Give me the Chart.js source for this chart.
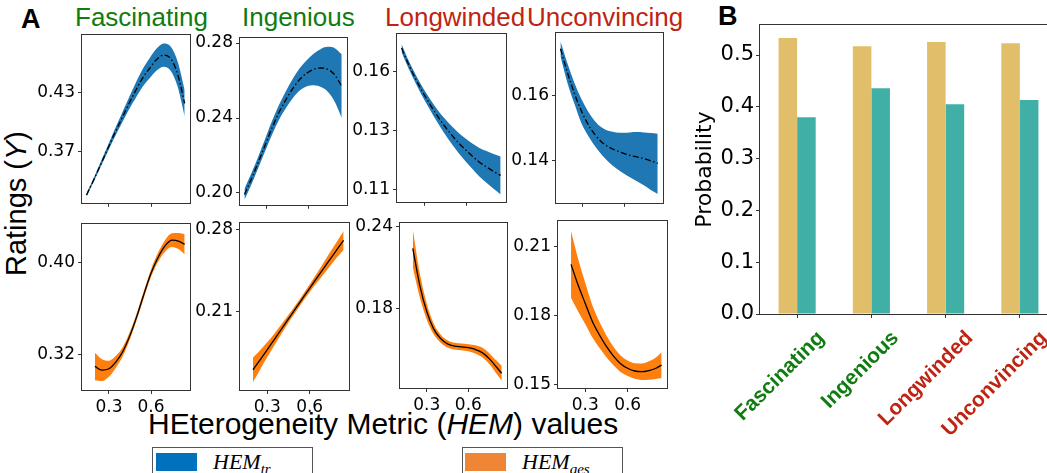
<!DOCTYPE html>
<html>
<head>
<meta charset="utf-8">
<script src="https://cdn.jsdelivr.net/npm/chart.js@4.4.1/dist/chart.umd.min.js"></script>
<style>
  body { margin: 0; width: 1047px; height: 473px; overflow: hidden; background: #fff; position: relative;
         font-family: "Liberation Sans", Arial, sans-serif; }
  canvas { position: absolute; }
  .txt { position: absolute; white-space: nowrap; line-height: 1; }
  .green { color: #107c10; }
  .red { color: #bf2412; }
  .legbox { position: absolute; border: 1px solid #555; background: #fff; box-sizing: border-box; }
  .patch { position: absolute; }
  .math { position: absolute; font-family: "Liberation Serif", serif; font-style: italic; font-size: 22px; line-height: 1; }
  .math sub { font-size: 15px; vertical-align: baseline; position: relative; top: 5px; }
</style>
</head>
<body>

<div class="txt" style="left:21px;top:6px;font-size:27px;font-weight:bold;">A</div>
<div class="txt" style="left:718px;top:3px;font-size:27px;font-weight:bold;">B</div>

<div class="txt green" style="left:75px;top:4px;font-size:26px;">Fascinating</div>
<div class="txt green" style="left:242px;top:4px;font-size:26px;">Ingenious</div>
<div class="txt red" style="left:385px;top:4px;font-size:26px;">Longwinded</div>
<div class="txt red" style="left:527px;top:4px;font-size:26px;">Unconvincing</div>

<div class="txt" style="left:-84px;top:189px;width:200px;text-align:center;font-size:29px;transform:rotate(-90deg);">Ratings (<i>Y</i>)</div>
<div class="txt" style="left:148px;top:409px;font-size:30px;">HEterogeneity Metric (<i>HEM</i>) values</div>

<div class="legbox" style="left:152px;top:447px;width:161px;height:40px;"></div>
<div class="patch" style="left:156px;top:453px;width:41px;height:18px;background:#0072bd;"></div>
<div class="math" style="left:213px;top:451px;">HEM<sub>tr</sub></div>
<div class="legbox" style="left:462px;top:447px;width:161px;height:40px;"></div>
<div class="patch" style="left:465px;top:453px;width:41px;height:18px;background:#ef8636;"></div>
<div class="math" style="left:522px;top:451px;">HEM<sub>ges</sub></div>

<script>
// x grids of the fitted curves
const topX    = [0.14, 0.19, 0.24, 0.29, 0.34, 0.39, 0.44, 0.49, 0.54, 0.59, 0.64, 0.69, 0.74, 0.79, 0.84];
const bottomX = [0.20, 0.25, 0.30, 0.35, 0.40, 0.45, 0.50, 0.55, 0.60, 0.65, 0.70, 0.75, 0.80, 0.84];
const xTickVals = [0.3, 0.6];
const xTickLabels = ['0.3', '0.6'];

// HEM_tr (top row)
const fascTrMean = [0.325, 0.340, 0.356, 0.372, 0.388, 0.403, 0.418, 0.432, 0.445, 0.455, 0.464, 0.4686, 0.465, 0.449, 0.419];
const fascTrCi   = [0.002, 0.002, 0.0025, 0.003, 0.004, 0.005, 0.006, 0.0078, 0.009, 0.0103, 0.0113, 0.012, 0.0125, 0.013, 0.0135];
const ingTrMean  = [0.1992, 0.2075, 0.2165, 0.2258, 0.2350, 0.2432, 0.2500, 0.2560, 0.2608, 0.2640, 0.2660, 0.2667, 0.2660, 0.2630, 0.2570];
const ingTrCi    = [0.003, 0.003, 0.003, 0.0033, 0.0037, 0.004, 0.0045, 0.0052, 0.006, 0.007, 0.0085, 0.0102, 0.012, 0.0143, 0.017];
const longTrMean = [0.1663, 0.1600, 0.1545, 0.1495, 0.1450, 0.1408, 0.1370, 0.1336, 0.1305, 0.1278, 0.1253, 0.1230, 0.1212, 0.1195, 0.1180];
const longTrCi   = [0.0015, 0.0015, 0.0016, 0.0018, 0.002, 0.0024, 0.0028, 0.0033, 0.0038, 0.0043, 0.0048, 0.0054, 0.006, 0.0066, 0.0072];
const uncTrMean  = [0.1745, 0.1672, 0.1607, 0.1553, 0.1510, 0.1478, 0.1455, 0.1440, 0.1430, 0.1422, 0.1415, 0.1410, 0.1405, 0.1398, 0.1390];
const uncTrUpper = [0.1768, 0.1700, 0.1640, 0.1590, 0.1550, 0.1520, 0.1500, 0.1490, 0.1486, 0.1485, 0.1486, 0.1487, 0.1486, 0.1484, 0.1482];
const uncTrLower = [0.1722, 0.1640, 0.1575, 0.1515, 0.1475, 0.1442, 0.1415, 0.1393, 0.1375, 0.1360, 0.1347, 0.1335, 0.1322, 0.1308, 0.1295];

// HEM_ges (bottom row)
const fascGesMean = [0.3100, 0.3068, 0.3080, 0.3140, 0.3232, 0.3370, 0.3540, 0.3730, 0.3910, 0.4048, 0.4148, 0.4198, 0.4188, 0.4162];
const fascGesCi   = [0.012, 0.0095, 0.007, 0.0052, 0.004, 0.0033, 0.003, 0.003, 0.0033, 0.004, 0.005, 0.006, 0.0072, 0.0088];
const ingGesMean  = [0.1604, 0.1688, 0.1774, 0.1862, 0.1950, 0.2038, 0.2126, 0.2213, 0.2300, 0.2387, 0.2473, 0.2558, 0.2643, 0.2710];
const ingGesCi    = [0.0105, 0.0083, 0.0064, 0.005, 0.004, 0.0033, 0.003, 0.003, 0.0033, 0.004, 0.005, 0.006, 0.007, 0.008];
const longGesMean = [0.2240, 0.1970, 0.1777, 0.1648, 0.1577, 0.1538, 0.1521, 0.1516, 0.1510, 0.1497, 0.1474, 0.1430, 0.1370, 0.1322];
const longGesCi   = [0.014, 0.009, 0.006, 0.004, 0.003, 0.0027, 0.0025, 0.0025, 0.0026, 0.003, 0.0035, 0.004, 0.0047, 0.0055];
const uncGesMean  = [0.2024, 0.1934, 0.1855, 0.1777, 0.1718, 0.1667, 0.1625, 0.1592, 0.1572, 0.1560, 0.1557, 0.1562, 0.1572, 0.1586];
const uncGesCi    = [0.0145, 0.0115, 0.009, 0.007, 0.0057, 0.0047, 0.004, 0.0036, 0.0034, 0.0034, 0.0036, 0.004, 0.0047, 0.0056];

// y ticks of each small panel
const fascTrTicks = [0.37, 0.43],          fascTrTickLabels = ['0.37', '0.43'];
const ingTrTicks  = [0.20, 0.24, 0.28],    ingTrTickLabels  = ['0.20', '0.24', '0.28'];
const longTrTicks = [0.1125, 0.135, 0.1575], longTrTickLabels = ['0.11', '0.13', '0.16'];
const uncTrTicks  = [0.14, 0.16],          uncTrTickLabels  = ['0.14', '0.16'];
const fascGesTicks = [0.32, 0.40],         fascGesTickLabels = ['0.32', '0.40'];
const ingGesTicks  = [0.21, 0.28],         ingGesTickLabels  = ['0.21', '0.28'];
const longGesTicks = [0.18, 0.24],         longGesTickLabels = ['0.18', '0.24'];
const uncGesTicks  = [0.15, 0.18, 0.21],   uncGesTickLabels  = ['0.15', '0.18', '0.21'];

// panel B
const barCategories = ['Fascinating', 'Ingenious', 'Longwinded', 'Unconvincing'];
const probGold = [0.533, 0.517, 0.525, 0.523];
const probTeal = [0.380, 0.436, 0.405, 0.413];
const barTicks = [0, 0.1, 0.2, 0.3, 0.4, 0.5];
const barTickLabels = ['0.0', '0.1', '0.2', '0.3', '0.4', '0.5'];

const trBlue = '#1f77b4';
const gesOrange = '#ff7f0e';
const catColors = ['#107c10', '#107c10', '#bf2412', '#bf2412'];

Chart.defaults.font.family = "'DejaVu Sans', sans-serif";
Chart.defaults.color = '#000';

const framePlugin = {
    id: 'frame',
    afterDraw(chart) {
        const a = chart.chartArea;
        const ctx = chart.ctx;
        ctx.save();
        ctx.strokeStyle = '#333';
        ctx.lineWidth = 1;
        ctx.strokeRect(Math.round(a.left) - 0.5, Math.round(a.top) - 0.5,
                       Math.round(a.right - a.left) + 1, Math.round(a.bottom - a.top) + 1);
        ctx.restore();
    }
};

const panels = [
    { box: [82, 34, 190, 208],  xs: topX, mean: fascTrMean, ci: fascTrCi, yMin: 0.317, yMax: 0.489, ticks: fascTrTicks, labels: fascTrTickLabels, color: trBlue, dash: true, xLab: false },
    { box: [240, 37, 347, 210], xs: topX, mean: ingTrMean, ci: ingTrCi, yMin: 0.1937, yMax: 0.2826, ticks: ingTrTicks, labels: ingTrTickLabels, color: trBlue, dash: true, xLab: false },
    { box: [397, 33, 506, 207], xs: topX, mean: longTrMean, ci: longTrCi, yMin: 0.108, yMax: 0.1715, ticks: longTrTicks, labels: longTrTickLabels, color: trBlue, dash: true, xLab: false },
    { box: [556, 32, 663, 208], xs: topX, mean: uncTrMean, upper: uncTrUpper, lower: uncTrLower, yMin: 0.1268, yMax: 0.1793, ticks: uncTrTicks, labels: uncTrTickLabels, color: trBlue, dash: true, xLab: false },
    { box: [82, 223, 190, 390], xs: bottomX, mean: fascGesMean, ci: fascGesCi, yMin: 0.2895, yMax: 0.4337, ticks: fascGesTicks, labels: fascGesTickLabels, color: gesOrange, dash: false, xLab: true },
    { box: [240, 222, 349, 390], xs: bottomX, mean: ingGesMean, ci: ingGesCi, yMin: 0.1431, yMax: 0.2856, ticks: ingGesTicks, labels: ingGesTickLabels, color: gesOrange, dash: false, xLab: true },
    { box: [400, 222, 507, 388], xs: bottomX, mean: longGesMean, ci: longGesCi, yMin: 0.1214, yMax: 0.2424, ticks: longGesTicks, labels: longGesTickLabels, color: gesOrange, dash: false, xLab: true },
    { box: [558, 220, 667, 388], xs: bottomX, mean: uncGesMean, ci: uncGesCi, yMin: 0.1486, yMax: 0.2212, ticks: uncGesTicks, labels: uncGesTickLabels, color: gesOrange, dash: false, xLab: true }
];

function makePanel(p) {
    const [L, T, R, B] = p.box;
    const yw = 60, pt = 12, pr = 8;
    const xh = p.xLab ? 28 : 8;
    const cv = document.createElement('canvas');
    cv.width = (R - L) + yw + pr;
    cv.height = (B - T) + pt + xh;
    cv.style.left = (L - yw) + 'px';
    cv.style.top = (T - pt) + 'px';
    document.body.appendChild(cv);

    const upper = p.upper || p.mean.map((m, i) => m + p.ci[i]);
    const lower = p.lower || p.mean.map((m, i) => m - p.ci[i]);
    const pts = arr => p.xs.map((x, i) => ({ x: x, y: arr[i] }));

    new Chart(cv, {
        type: 'line',
        data: {
            datasets: [
                { data: pts(p.mean), borderColor: '#000', borderWidth: 1.3,
                  borderDash: p.dash ? [6, 2.5, 1.5, 2.5] : [], pointRadius: 0, fill: false,
                  cubicInterpolationMode: 'monotone' },
                { data: pts(upper), borderColor: 'rgba(0,0,0,0)', borderWidth: 0, pointRadius: 0,
                  fill: '+1', backgroundColor: p.color, cubicInterpolationMode: 'monotone' },
                { data: pts(lower), borderColor: 'rgba(0,0,0,0)', borderWidth: 0, pointRadius: 0,
                  fill: false, cubicInterpolationMode: 'monotone' }
            ]
        },
        options: {
            responsive: false,
            animation: false,
            devicePixelRatio: 1,
            layout: { padding: { left: 0, top: pt, right: pr, bottom: 0 } },
            plugins: { legend: { display: false }, tooltip: { enabled: false } },
            scales: {
                x: {
                    type: 'linear', position: 'bottom', min: 0.108, max: 0.878,
                    afterBuildTicks: s => { s.ticks = xTickVals.map(v => ({ value: v })); },
                    afterFit: s => { s.height = xh; },
                    grid: { drawOnChartArea: false, drawTicks: true, tickLength: 4, color: '#333' },
                    border: { display: false },
                    ticks: { callback: (v, i) => p.xLab ? xTickLabels[i] : '', font: { size: 17 },
                             padding: 3, maxRotation: 0, autoSkip: false, color: '#000' }
                },
                y: {
                    type: 'linear', min: p.yMin, max: p.yMax,
                    afterBuildTicks: s => { s.ticks = p.ticks.map(v => ({ value: v })); },
                    afterFit: s => { s.width = yw; },
                    grid: { drawOnChartArea: false, drawTicks: true, tickLength: 4, color: '#333' },
                    border: { display: false },
                    ticks: { callback: (v, i) => p.labels[i], font: { size: 17 }, padding: 3, color: '#000' }
                }
            }
        },
        plugins: [framePlugin]
    });
}

panels.forEach(makePanel);

// panel B bar chart
const bc = document.createElement('canvas');
bc.width = 390;
bc.height = 473;
bc.style.left = '680px';
bc.style.top = '0px';
document.body.appendChild(bc);

new Chart(bc, {
    type: 'bar',
    data: {
        labels: barCategories,
        datasets: [
            { data: probGold, backgroundColor: '#e1be6a' },
            { data: probTeal, backgroundColor: '#40b0a6' }
        ]
    },
    options: {
        responsive: false,
        animation: false,
        devicePixelRatio: 1,
        categoryPercentage: 0.5,
        barPercentage: 1.0,
        layout: { padding: { left: 0, top: 25, right: 13, bottom: 0 } },
        plugins: { legend: { display: false }, tooltip: { enabled: false } },
        scales: {
            x: {
                afterFit: s => { s.height = 159; },
                grid: { offset: false, drawOnChartArea: false, drawTicks: true, tickLength: 4, color: '#333' },
                border: { display: false },
                ticks: {
                    minRotation: 45, maxRotation: 45, autoSkip: false, labelOffset: 24, padding: 8,
                    color: ctx => catColors[ctx.index],
                    font: { family: "'Liberation Sans', Arial, sans-serif", weight: 'bold', size: 21 }
                }
            },
            y: {
                min: 0, max: 0.558,
                afterBuildTicks: s => { s.ticks = barTicks.map(v => ({ value: v })); },
                afterFit: s => { s.width = 80; },
                grid: { drawOnChartArea: false, drawTicks: true, tickLength: 4, color: '#333' },
                border: { display: false },
                ticks: { callback: (v, i) => barTickLabels[i], font: { size: 21 }, padding: 2, color: '#000' },
                title: { display: true, text: 'Probability', font: { size: 22 }, padding: { top: 12, bottom: 0 }, color: '#000' }
            }
        }
    },
    plugins: [framePlugin]
});
</script>
</body>
</html>
